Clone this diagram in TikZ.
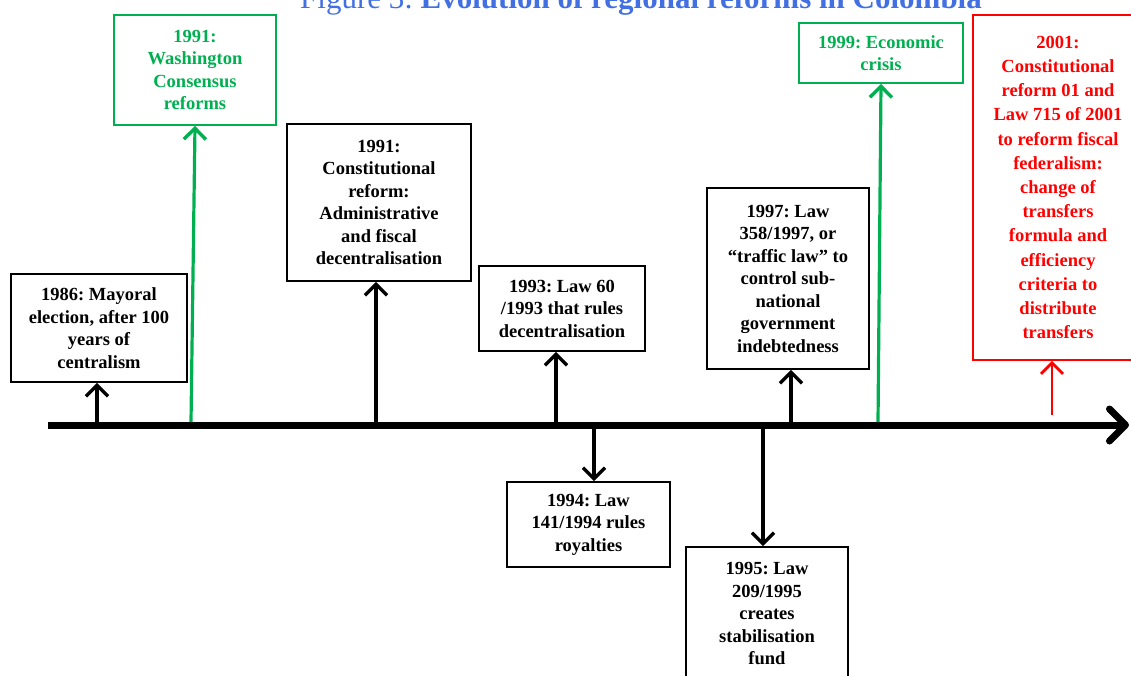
\documentclass[tikz,border=0pt]{standalone}
\usepackage{fontspec}
\setmainfont{Liberation Serif}
\usetikzlibrary{arrows.meta}
\frenchspacing
\definecolor{tgreen}{RGB}{0,176,80}
\definecolor{tred}{RGB}{255,0,0}
\definecolor{tblue}{RGB}{66,112,226}
\tikzset{
  box/.style={draw, line width=1.8pt, align=center, inner sep=0pt,
    font=\bfseries\fontsize{18.5}{22.5}\selectfont},
  gbox/.style={box, draw=tgreen, text=tgreen},
  rbox/.style={box, draw=tred, text=tred, font=\bfseries\fontsize{18.5}{24.2}\selectfont},
  conn/.style={line width=3.2pt, -{Straight Barb[length=11pt,width=22pt,line width=3.4pt]}},
  gconn/.style={conn, draw=tgreen},
  rconn/.style={line width=2.6pt, draw=tred, -{Straight Barb[length=11pt,width=22pt,line width=2.8pt]}},
  axis/.style={line width=7pt, -{Straight Barb[length=16pt,width=32pt,round]}}
}
\begin{document}
\begin{tikzpicture}[x=1pt,y=-1pt]
\useasboundingbox (0,0) rectangle (1131,675);
\fill[white] (0,0) rectangle (1131,675);

\node[font=\fontsize{31}{34}\selectfont, text=tblue, anchor=base] (title) at (641,8)
  {Figure 3: \textbf{Evolution of regional reforms in Colombia}};

% timeline
\coordinate (tl0) at (48,425);
\coordinate (tl1) at (1129,425);
\draw[axis] (tl0) -- (tl1);

% boxes
\node[box, minimum width=176pt, minimum height=108pt] (b86) at (99,328)
  {1986: Mayoral\\election, after 100\\years of\\centralism};
\node[gbox, minimum width=162pt, minimum height=110pt] (bW) at (195,70)
  {1991:\\Washington\\Consensus\\reforms};
\node[box, minimum width=184pt, minimum height=157pt] (b91) at (379,202.5)
  {1991:\\Constitutional\\reform:\\Administrative\\and fiscal\\decentralisation};
\node[box, minimum width=166pt, minimum height=85pt] (b93) at (562,308.5)
  {1993: Law 60\\/1993 that rules\\decentralisation};
\node[box, minimum width=163pt, minimum height=85pt] (b94) at (588.5,524.5)
  {1994: Law\\141/1994 rules\\royalties};
\node[box, minimum width=162pt, minimum height=133pt] (b95) at (767,613.5)
  {1995: Law\\209/1995\\creates\\stabilisation\\fund};
\node[box, minimum width=162pt, minimum height=181pt] (b97) at (788,278.5)
  {1997: Law\\358/1997, or\\“traffic law” to\\control sub-\\national\\government\\indebtedness};
\node[gbox, minimum width=164pt, minimum height=60pt] (b99) at (881,53)
  {1999: Economic\\crisis};
\node[rbox, minimum width=170pt, minimum height=345pt] (b01) at (1058,187.5)
  {2001:\\Constitutional\\reform 01 and\\Law 715 of 2001\\to reform fiscal\\federalism:\\change of\\transfers\\formula and\\efficiency\\criteria to\\distribute\\transfers};

% anchor points on the timeline
\coordinate (t86) at (97,425);
\coordinate (tW) at (191,422);
\coordinate (t91) at (376,425);
\coordinate (t93) at (556,425);
\coordinate (t94) at (594,425);
\coordinate (t95) at (763,425);
\coordinate (t97) at (791,425);
\coordinate (t99) at (878,422);
\coordinate (t01) at (1052,415);

% connectors
\draw[conn] (t86) -- (t86 |- b86.south);
\draw[gconn] (tW) -- (bW.south);
\draw[conn] (t91) -- (t91 |- b91.south);
\draw[conn] (t93) -- (t93 |- b93.south);
\draw[conn] (t94) -- (t94 |- b94.north);
\draw[conn] (t95) -- (t95 |- b95.north);
\draw[conn] (t97) -- (t97 |- b97.south);
\draw[gconn] (t99) -- (b99.south);
\draw[rconn] (t01) -- (t01 |- b01.south);
\end{tikzpicture}
\end{document}
